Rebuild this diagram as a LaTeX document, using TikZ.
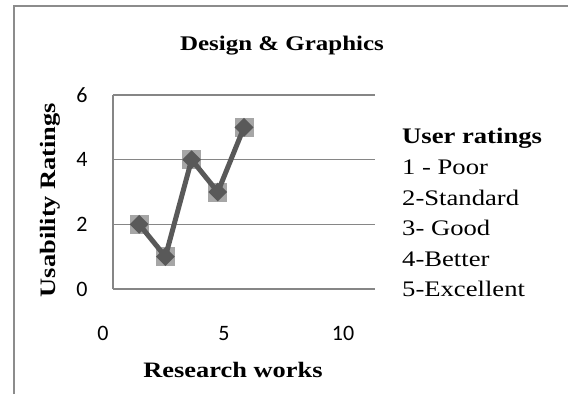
\documentclass[tikz,border=0pt]{standalone}
\usepackage{fontspec}
\usepackage{graphicx}
\setmainfont{Liberation Serif}
\newfontfamily\numfont{Carlito}
\usetikzlibrary{shapes.geometric}

\definecolor{frameGray}{HTML}{8C8C8C}
\definecolor{gridGray}{HTML}{868686}
\definecolor{markGray}{HTML}{A6A6A6}
\definecolor{lineGray}{HTML}{595959}

%% chart text is set wide
\newcommand\widetext[1]{\scalebox{1.2}[1]{#1}}

\begin{document}
\begin{tikzpicture}[
  frameline/.style={draw=frameGray, line width=2.5pt},
  gridline/.style={draw=gridGray, line width=1.3pt},
  ratingline/.style={draw=lineGray, line width=5pt, line join=round},
  marksq/.style={rectangle, fill=markGray, minimum size=19pt, inner sep=0pt},
  markdia/.style={diamond, aspect=1, fill=lineGray, minimum size=19pt, inner sep=0pt},
  ticklabel/.style={font=\numfont\fontsize{22}{24}\selectfont, inner sep=0pt},
  axistitle/.style={font=\bfseries\fontsize{22}{26}\selectfont, inner sep=0pt, anchor=base},
  legendtext/.style={font=\fontsize{22.2}{26}\selectfont, inner sep=0pt, anchor=base west}]

  \newcommand\X{26.2pt}
  \newcommand\Y{32.33pt}

  \useasboundingbox (-113pt,-105pt) rectangle (455pt,289pt);

  %% chart frame
  \draw[frameline] (-99pt,-105pt) -- (-99pt,283pt) -- (455pt,283pt);

  %% grid and axis
  \draw[gridline] (0*\X, 0*\Y) -- (10*\X, 0*\Y);
  \draw[gridline] (0*\X, 2*\Y) -- (10*\X, 2*\Y);
  \draw[gridline] (0*\X, 4*\Y) -- (10*\X, 4*\Y);
  \draw[gridline] (0*\X, 6*\Y) -- (10*\X, 6*\Y);
  \draw[gridline] (0*\X, 0*\Y) -- (0*\X, 6*\Y);

  \node[ticklabel] (ytick0) at (-31pt, 0*\Y) {0};
  \node[ticklabel] (ytick2) at (-31pt, 2*\Y) {2};
  \node[ticklabel] (ytick4) at (-31pt, 4*\Y) {4};
  \node[ticklabel] (ytick6) at (-31pt, 6*\Y) {6};

  \node[ticklabel] (xtick0) at (-10pt, -44.5pt) {0};
  \node[ticklabel] (xtick5) at (111pt, -44.5pt) {5};
  \node[ticklabel] (xtick10) at (230pt, -44.5pt) {10};

  %% titles
  \node[axistitle, font=\bfseries\fontsize{20.8}{24}\selectfont] (title) at (169pt, 238pt) {\widetext{Design \& Graphics}};
  \node[axistitle] (xtitle) at (120pt, -88pt) {\widetext{Research works}};
  \node[axistitle, rotate=90] (ytitle) at (-57pt, 89pt) {\widetext{Usability Ratings}};

  %% data
  \node[marksq] (s1) at (1*\X, 2*\Y) {};
  \node[marksq] (s2) at (2*\X, 1*\Y) {};
  \node[marksq] (s3) at (3*\X, 4*\Y) {};
  \node[marksq] (s4) at (4*\X, 3*\Y) {};
  \node[marksq] (s5) at (5*\X, 5*\Y) {};

  \draw[ratingline] (s1.center) -- (s2.center) -- (s3.center) -- (s4.center) -- (s5.center);

  \node[markdia] (p1) at (s1) {};
  \node[markdia] (p2) at (s2) {};
  \node[markdia] (p3) at (s3) {};
  \node[markdia] (p4) at (s4) {};
  \node[markdia] (p5) at (s5) {};

  %% legend
  \node[legendtext, font=\bfseries\fontsize{22.2}{26}\selectfont] (lhead) at (289pt, 145pt) {\widetext{User ratings}};
  \node[legendtext] (l1) at (289pt, 114.5pt) {\widetext{1 - Poor}};
  \node[legendtext] (l2) at (289pt, 84pt) {\widetext{2-Standard}};
  \node[legendtext] (l3) at (289pt, 53.5pt) {\widetext{3- Good}};
  \node[legendtext] (l4) at (289pt, 23pt) {\widetext{4-Better}};
  \node[legendtext] (l5) at (289pt, -7.5pt) {\widetext{5-Excellent}};
\end{tikzpicture}
\end{document}
